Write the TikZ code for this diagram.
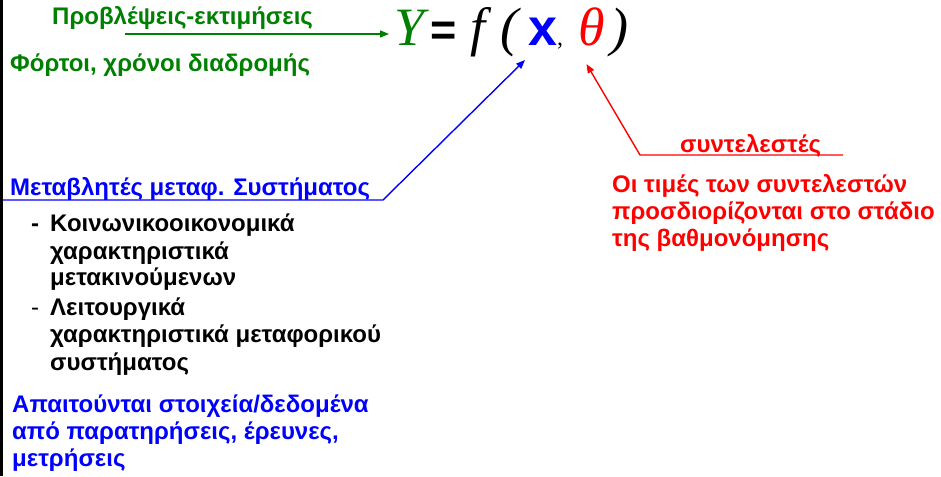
\documentclass[tikz,border=0pt]{standalone}
\usepackage{fontspec}
\setmainfont{Liberation Sans}
\newfontfamily\formfont{Liberation Serif}
\usetikzlibrary{arrows.meta}
\definecolor{grn}{RGB}{0,128,0}
\definecolor{blu}{RGB}{0,0,255}
\definecolor{rd}{RGB}{255,0,0}

\begin{document}
\begin{tikzpicture}[x=1pt,y=-1pt,
  txt/.style={anchor=base west, inner sep=0pt, font=\fontsize{24}{28}\selectfont\bfseries},
  form/.style={anchor=base west, inner sep=0pt, font=\fontsize{54}{58}\selectfont\formfont\itshape},
  formsans/.style={anchor=base west, inner sep=0pt, font=\fontsize{52}{56}\selectfont\bfseries},
  conn/.style={line width=1.4pt, -{Triangle[length=9pt,width=7pt]}}
]
\useasboundingbox (0,0) rectangle (941,476);
\fill[white] (0,0) rectangle (941,476);
\draw[line width=3pt] (1.5,0) -- (1.5,476);

% formula
\node[form, text=grn] (Y) at (394,46) {Y};
\node[formsans, font=\fontsize{45}{50}\selectfont\bfseries] (eq) at (430,46) {=};
\node[form] (f) at (470,46) {f};
\node[form] (lp) at (500,46) {(};
\node[formsans, text=blu] (X) at (528,46) {x};
\node[form, font=\fontsize{24}{28}\selectfont\formfont] (cm) at (557,46) {,};
\node[form, text=rd] (T) at (578,46) {θ};
\node[form] (rp) at (610,46) {)};

% left texts
\node[txt, text=grn] (pred) at (52,25) {Προβλέψεις-εκτιμήσεις};
\node[txt, text=grn] (load) at (10,72) {Φόρτοι, χρόνοι διαδρομής};
\node[txt, text=blu] (vars) at (10,195) {Μεταβλητές μεταφ. Συστήματος};

\node[txt] (d1) at (31,231) {-};
\node[txt] (k1) at (50,231) {Κοινωνικοοικονομικά};
\node[txt] (k2) at (50,259) {χαρακτηριστικά};
\node[txt] (k3) at (50,285) {μετακινούμενων};
\node[txt, font=\fontsize{24}{28}\selectfont] (d2) at (31,315) {-};
\node[txt] (l1) at (50,315) {Λειτουργικά};
\node[txt] (l2) at (50,342) {χαρακτηριστικά μεταφορικού};
\node[txt] (l3) at (50,370) {συστήματος};

\node[txt, text=blu] (a1) at (12,412) {Απαιτούνται στοιχεία/δεδομένα};
\node[txt, text=blu] (a2) at (12,439) {από παρατηρήσεις, έρευνες,};
\node[txt, text=blu] (a3) at (12,466) {μετρήσεις};

% right texts
\node[txt, text=rd] (coef) at (680,152) {συντελεστές};
\node[txt, text=rd] (r1) at (612,192) {Οι τιμές των συντελεστών};
\node[txt, text=rd] (r2) at (612,219) {προσδιορίζονται στο στάδιο};
\node[txt, text=rd] (r3) at (612,246) {της βαθμονόμησης};

% connectors
\coordinate (gstart) at (125,34);
\coordinate (bleft) at (3,200);
\coordinate (bcorner) at (383,200);
\coordinate (rright) at (843,155);
\coordinate (rcorner) at (640,155);
\draw[conn, grn] (gstart) -- ([shift={(-5pt,12pt)}]Y.base west);
\draw[conn, blu] (bleft) -- (bcorner) -- ([shift={(-3pt,-14pt)}]X.base west);
\draw[conn, rd] (rright) -- (rcorner) -- ([shift={(-5pt,-18pt)}]T.base);
\end{tikzpicture}
\end{document}
